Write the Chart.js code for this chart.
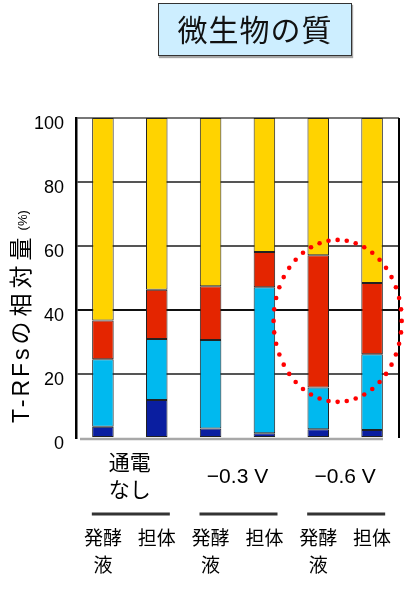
<!DOCTYPE html>
<html>
<head>
<meta charset="utf-8">
<script src="https://cdn.jsdelivr.net/npm/chart.js@4"></script>
<style>
  body { margin: 0; background: #fff; }
  #wrap { position: relative; width: 406px; height: 590px; }
  #title {
    position: absolute; left: 158px; top: 3px; width: 194px; height: 53px;
    box-sizing: border-box; background: #cdeeff; border: 1.5px solid #333;
    box-shadow: 1px 2px 1px rgba(0,0,0,0.35);
    font: 30px "Noto Sans CJK JP", sans-serif; color: #111;
    text-align: center; line-height: 49px; letter-spacing: 1px;
  }
</style>
</head>
<body>
<div id="wrap">
  <canvas id="chart" width="406" height="590"></canvas>
  <div id="title">微生物の質</div>
</div>
<script>
const groups = [['通電', 'なし'], '−0.3 V', '−0.6 V'];
const samples = [['発酵', '液'], '担体', ['発酵', '液'], '担体', ['発酵', '液'], '担体'];
const navy = [3.5, 11.9, 3.0, 1.5, 2.7, 2.5];
const cyan = [21.1, 19.0, 27.6, 45.6, 13.1, 23.7];
const red = [12.1, 15.4, 16.8, 11.0, 41.3, 22.2];
const yellow = [63.3, 53.7, 52.6, 41.9, 42.9, 51.6];
const yMax = 100;
const yStep = 20;

const font = '"Liberation Sans", "Noto Sans CJK JP", sans-serif';

// frame, underlines, y title and the dotted circle
const extras = {
  id: 'extras',
  afterDraw(chart) {
    const ctx = chart.ctx;
    const a = chart.chartArea;
    const g = chart.scales.x2;
    const x = chart.scales.x;
    const y = chart.scales.y;
    ctx.save();

    // right border
    ctx.strokeStyle = '#000';
    ctx.lineWidth = 2;
    ctx.beginPath();
    ctx.moveTo(a.right, a.top);
    ctx.lineTo(a.right, a.bottom);
    ctx.stroke();

    // bottom shadow line
    ctx.strokeStyle = '#a8a8a8';
    ctx.lineWidth = 2.5;
    ctx.beginPath();
    ctx.moveTo(a.left + 4, a.bottom + 1);
    ctx.lineTo(a.right - 16, a.bottom + 1);
    ctx.stroke();

    // group underlines
    ctx.strokeStyle = '#333';
    ctx.lineWidth = 3;
    groups.forEach((_, i) => {
      const cx = g.getPixelForTick(i);
      ctx.beginPath();
      ctx.moveTo(cx - 38, g.bottom - 4);
      ctx.lineTo(cx + 40, g.bottom - 4);
      ctx.stroke();
    });

    // y title
    ctx.translate(23, a.bottom - 15);
    ctx.rotate(-Math.PI / 2);
    ctx.fillStyle = '#000';
    ctx.textBaseline = 'middle';
    ctx.textAlign = 'left';
    ctx.font = '23px ' + font;
    ctx.letterSpacing = '3px';
    ctx.fillText('T-RFs', 0, 0);
    let pos = ctx.measureText('T-RFs').width + 1;
    ctx.letterSpacing = '5px';
    ctx.fillText('の相対量', pos, 0);
    pos += ctx.measureText('の相対量').width + 2;
    ctx.letterSpacing = '0px';
    ctx.font = '13px ' + font;
    ctx.fillText('(%)', pos, 0);
    ctx.restore();

    // dotted ellipse around the -0.6 V bars
    const cx = x.getPixelForValue(4.36);
    const cy = y.getPixelForValue(36.6);
    const rx = (x.getPixelForValue(5) - x.getPixelForValue(4)) * 1.19;
    const ry = y.getPixelForValue(0) - y.getPixelForValue(25.3);
    ctx.save();
    ctx.fillStyle = '#ff0000';
    const n = 44;
    for (let i = 0; i < n; i++) {
      const t = (i / n) * Math.PI * 2;
      ctx.beginPath();
      ctx.arc(cx + rx * Math.cos(t), cy + ry * Math.sin(t), 2.3, 0, Math.PI * 2);
      ctx.fill();
    }
    ctx.restore();
  }
};

const bar = (data, color) => ({
  data,
  backgroundColor: color,
  borderColor: '#222',
  borderWidth: 1,
  borderSkipped: false,
  barPercentage: 0.4,
  categoryPercentage: 1
});

new Chart(document.getElementById('chart'), {
  type: 'bar',
  data: {
    labels: samples,
    datasets: [
      bar(navy, '#0a1ea0'),
      bar(cyan, '#00b9ef'),
      bar(red, '#e42500'),
      bar(yellow, '#ffd300')
    ]
  },
  options: {
    responsive: false,
    animation: false,
    devicePixelRatio: 1,
    layout: { padding: { top: 118, right: 7, left: 0, bottom: 0 } },
    plugins: { legend: { display: false }, tooltip: { enabled: false } },
    scales: {
      x: {
        stacked: true,
        weight: 1,
        grid: { display: false },
        border: { display: false },
        ticks: {
          color: '#000',
          font: { size: 19, family: font, lineHeight: 1.42 },
          padding: 0,
          maxRotation: 0,
          autoSkip: false
        },
        afterFit: s => { s.height = 72; }
      },
      x2: {
        type: 'category',
        labels: groups,
        position: 'bottom',
        offset: true,
        weight: 0,
        grid: { display: false },
        border: { display: false },
        ticks: {
          color: '#000',
          font: { size: 21, family: font, lineHeight: 1.29 },
          padding: 18,
          crossAlign: 'center',
          maxRotation: 0,
          autoSkip: false
        },
        afterFit: s => { s.height = 80; }
      },
      y: {
        stacked: true,
        min: 0,
        max: yMax,
        ticks: {
          stepSize: yStep,
          color: '#000',
          font: { size: 18, family: font },
          padding: 12,
          labelOffset: 6
        },
        grid: {
          drawTicks: false,
          lineWidth: 2,
          color: c => c.tick.value === 0 ? 'rgba(0,0,0,0)'
            : c.tick.value === 40 ? '#111'
            : c.tick.value === 100 ? '#777' : '#555'
        },
        border: { color: '#000', width: 2.5 },
        afterFit: s => { s.width = 76; }
      }
    }
  },
  plugins: [extras]
});
</script>
</body>
</html>
